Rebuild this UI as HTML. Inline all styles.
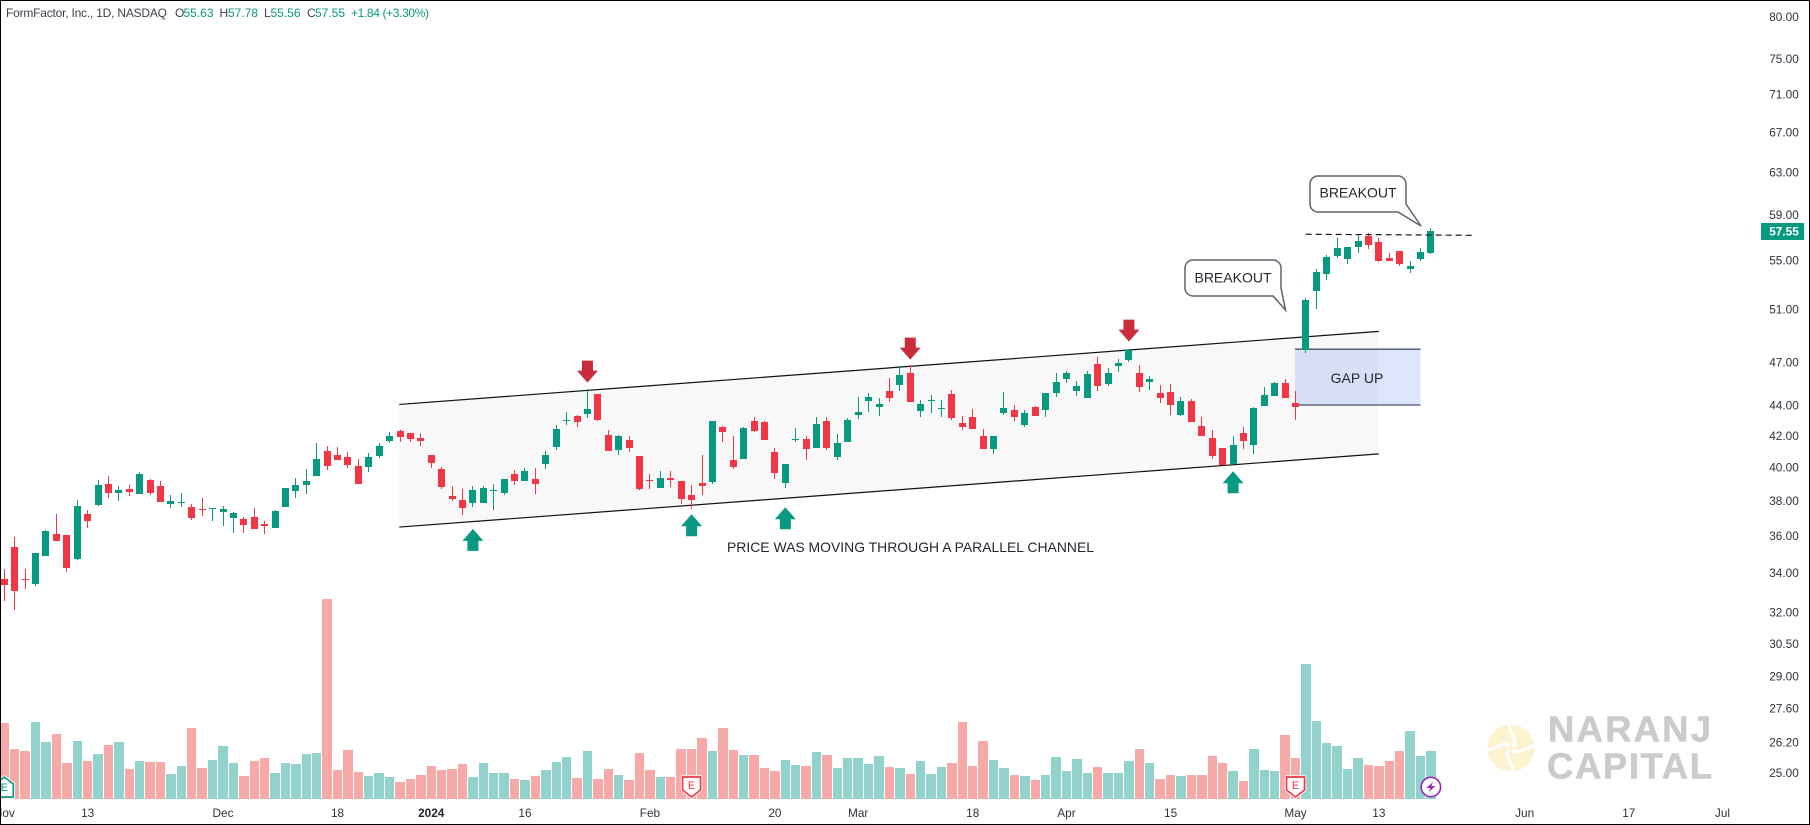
<!DOCTYPE html>
<html lang="en">
<head>
<meta charset="utf-8">
<title>FormFactor, Inc., 1D, NASDAQ</title>
<style>
html,body{margin:0;padding:0;background:#fff;}
body{width:1810px;height:825px;overflow:hidden;}
svg{display:block;font-family:"Liberation Sans",sans-serif;}
text{dominant-baseline:central;}
</style>
</head>
<body>
<svg id="chart" xmlns="http://www.w3.org/2000/svg" width="1810" height="825" viewBox="0 0 1810 825">
  <rect x="0" y="0" width="1810" height="825" fill="#ffffff"/>
  <g id="watermark">
    <g transform="translate(1511 748)">
      <circle r="23.5" fill="#fdf3d0"/>
      <g fill="none" stroke="#ffffff" stroke-width="3.2">
        <path d="M2 -1C8 -9 -3 -16 -2 -25"/>
        <path d="M1 2C9 8 16 -3 25 -2"/>
        <path d="M-2 1C-8 9 3 16 2 25"/>
        <path d="M-1 -2C-9 -8 -16 3 -25 2"/>
      </g>
    </g>
    <text x="1548" y="729" font-size="36.5" font-weight="bold" fill="#cbcbcb" stroke="#cbcbcb" stroke-width="0.6" textLength="163" lengthAdjust="spacing">NARANJ</text>
    <text x="1547" y="766" font-size="36.5" font-weight="bold" fill="#cbcbcb" stroke="#cbcbcb" stroke-width="0.6" textLength="165" lengthAdjust="spacing">CAPITAL</text>
  </g>
  <g id="volume-layer"></g>
  <g id="channel-layer"></g>
  <g id="gap-layer"></g>
  <g id="candle-layer" shape-rendering="crispEdges"></g>
  <g id="arrow-layer"></g>
  <g id="level-layer"></g>

  <text x="1357" y="378" font-size="14" fill="#23262f" text-anchor="middle">GAP UP</text>
  <text x="727" y="547" font-size="14" fill="#23262f" textLength="367" lengthAdjust="spacingAndGlyphs">PRICE WAS MOVING THROUGH A PARALLEL CHANNEL</text>

  <g>
    <path d="M1193 260H1273a8 8 0 0 1 8 8V288L1285.5 310L1273 296H1193a8 8 0 0 1 -8 -8V268a8 8 0 0 1 8 -8Z" fill="#ffffff" stroke="#5f626e" stroke-width="1.5"/>
    <text x="1233" y="277.5" font-size="14" fill="#23262f" text-anchor="middle">BREAKOUT</text>
  </g>
  <g>
    <path d="M1318 176H1398a8 8 0 0 1 8 8V204L1421 226L1398 212H1318a8 8 0 0 1 -8 -8V184a8 8 0 0 1 8 -8Z" fill="#ffffff" stroke="#5f626e" stroke-width="1.5"/>
    <text x="1358" y="192.5" font-size="14" fill="#23262f" text-anchor="middle">BREAKOUT</text>
  </g>

  <g id="marker-layer"></g>
  <g id="y-axis"></g>
  <g id="x-axis"></g>

  <g font-size="12">
    <text x="6" y="13" fill="#3c3f49" textLength="161" lengthAdjust="spacing">FormFactor, Inc., 1D, NASDAQ</text>
    <text x="175" y="13" fill="#3c3f49">O</text>
    <text x="183.5" y="13" fill="#089981">55.63</text>
    <text x="219.5" y="13" fill="#3c3f49">H</text>
    <text x="228" y="13" fill="#089981">57.78</text>
    <text x="264" y="13" fill="#3c3f49">L</text>
    <text x="270.5" y="13" fill="#089981">55.56</text>
    <text x="307" y="13" fill="#3c3f49">C</text>
    <text x="315" y="13" fill="#089981">57.55</text>
    <text x="351" y="13" fill="#089981" textLength="78" lengthAdjust="spacing">+1.84 (+3.30%)</text>
  </g>

  <rect x="0.5" y="0.5" width="1809" height="824" fill="none" stroke="#000000" stroke-width="1"/>
</svg>

<script>
const opens = [33.70,35.40,33.70,33.45,34.91,36.12,36.06,34.75,37.25,37.76,39.00,38.47,38.70,38.41,39.24,38.88,37.82,37.88,37.65,37.53,37.53,37.36,37.02,36.96,37.07,36.68,36.45,37.65,38.59,38.94,39.48,41.03,40.78,40.65,40.09,40.03,40.72,41.67,42.32,42.19,41.86,40.78,39.91,38.29,38.05,37.88,37.88,38.59,38.47,39.61,39.18,39.30,40.22,41.29,42.97,43.30,43.43,44.80,42.06,41.10,41.73,40.72,39.24,38.76,39.36,39.18,38.35,39.06,39.12,42.58,40.46,40.53,42.97,42.90,40.97,39.06,41.73,41.80,41.22,42.97,40.65,41.60,43.37,44.31,43.91,45.00,45.42,46.26,43.64,44.31,43.77,44.80,42.84,43.23,41.99,41.16,43.50,43.70,42.71,43.91,43.70,44.87,45.84,45.00,44.52,46.91,45.49,46.77,47.20,46.26,45.63,44.87,44.94,43.37,44.31,42.64,41.86,41.22,40.22,42.19,41.41,43.98,44.66,45.56,44.18,47.93,52.49,53.88,55.39,55.14,56.17,57.12,56.60,55.22,55.83,54.30,55.14,55.63];
const highs = [34.22,35.95,34.22,35.07,36.34,37.25,36.06,38.05,37.48,39.24,39.48,38.88,38.94,39.73,39.30,39.18,38.35,38.47,37.82,38.17,37.59,37.71,37.36,37.07,37.59,36.84,37.48,38.76,39.36,39.91,41.54,41.35,41.29,40.97,40.53,40.91,41.54,42.25,42.38,42.19,42.19,40.78,40.03,38.88,38.70,38.88,38.88,39.00,39.30,39.85,39.97,39.97,41.03,42.71,43.57,43.37,45.14,44.80,42.38,42.06,41.99,40.72,39.61,39.79,39.79,39.18,38.94,40.78,42.97,42.64,41.99,42.58,43.23,42.97,41.22,40.22,42.51,41.99,43.23,43.23,42.12,43.16,44.59,44.87,44.52,45.91,46.77,46.84,44.38,44.73,44.38,45.07,43.30,43.77,42.45,41.99,44.94,44.04,43.70,43.98,44.87,46.26,46.41,45.70,46.41,47.41,46.63,47.27,47.93,46.84,46.05,45.42,45.49,44.59,44.45,43.23,42.38,41.22,41.99,42.58,43.91,45.28,45.63,45.84,45.00,51.92,54.30,55.48,56.95,56.17,57.21,57.39,56.95,55.65,55.83,54.97,56.08,57.78];
const lows = [32.58,32.13,33.20,33.35,34.91,35.73,34.07,34.70,36.45,37.71,38.17,38.00,38.29,38.41,38.35,37.94,37.59,37.65,36.90,37.13,36.84,36.56,36.17,36.17,36.40,36.12,36.45,37.65,38.17,38.41,39.48,39.85,40.46,39.97,39.00,39.73,40.59,41.54,41.60,41.60,41.35,39.97,38.70,38.00,37.19,37.65,37.88,37.48,38.35,38.94,39.18,38.41,39.91,41.10,42.71,42.58,43.16,42.97,41.03,40.78,40.97,38.65,38.70,38.76,38.82,37.82,37.53,38.35,39.00,41.60,39.91,40.53,42.25,41.73,39.30,38.76,41.60,40.46,41.22,41.10,40.46,41.60,43.10,43.57,43.30,44.25,45.00,44.25,43.23,43.50,43.23,43.03,42.38,42.45,41.16,40.84,43.37,42.97,42.58,43.30,43.23,44.59,45.56,44.66,44.52,45.00,45.35,46.33,47.06,44.94,45.07,44.18,43.37,43.30,42.90,41.99,40.53,40.16,40.22,41.16,40.84,43.98,44.66,44.52,43.03,47.70,51.05,53.38,55.22,54.72,55.65,56.00,54.88,54.97,54.55,53.96,54.97,55.56];
const closes = [33.40,33.10,33.65,35.07,36.28,35.73,34.28,37.71,36.84,38.94,38.47,38.65,38.53,39.61,38.47,37.94,38.00,37.94,37.02,37.48,37.59,37.53,37.30,36.62,36.40,36.56,37.42,38.76,38.94,39.18,40.53,40.09,40.46,40.16,39.00,40.65,41.35,41.99,41.93,41.80,41.67,40.28,38.82,38.11,37.59,38.65,38.76,38.65,39.30,39.18,39.79,39.00,40.78,42.45,43.03,42.90,43.77,43.03,41.03,41.99,41.22,38.70,39.18,39.36,39.24,38.11,38.05,38.88,42.97,42.25,40.03,42.51,42.32,41.73,39.67,40.22,41.80,41.16,42.77,41.22,41.54,43.03,43.57,44.59,44.11,44.52,46.12,44.25,44.11,44.38,43.84,43.16,42.58,42.45,41.16,41.99,43.84,43.23,43.50,43.30,44.87,45.63,46.26,45.35,46.19,45.35,46.26,46.98,47.93,45.28,45.84,44.52,44.04,44.31,42.90,41.99,40.72,40.16,41.41,41.67,43.84,44.73,45.56,44.52,43.91,51.76,54.05,55.31,56.08,56.17,56.68,56.34,54.97,54.97,54.72,54.55,55.74,57.55];
const volumes = [760,500,480,770,570,650,360,580,380,450,540,570,300,380,370,370,250,330,710,310,390,530,360,230,380,410,260,360,350,450,460,2000,290,490,270,230,260,220,170,200,240,330,290,300,350,220,360,260,260,200,190,230,290,370,420,210,480,200,300,240,190,460,290,220,220,500,500,610,480,710,490,440,440,310,280,390,340,330,470,440,310,410,410,350,430,320,310,250,380,250,320,360,770,330,580,390,310,240,230,190,240,420,280,400,260,320,260,260,380,500,360,200,240,230,240,240,430,360,280,180,500,290,280,640,410,1350,780,560,530,300,410,340,330,380,480,680,430,480];
const yTickValues = [80,75,71,67,63,59,55,51,47,44,42,40,38,36,34,32,30.5,29,27.6,26.2,25];
const xTickLabels = ["Nov","13","Dec","18","2024","16","Feb","20","Mar","18","Apr","15","May","13","Jun","17","Jul"];
const xTickBars = [0,8,21,32,41,50,62,74,82,93,102,112,124,132,146,156,165];
const lastPrice = 57.55;
const channelBars = [37.93,132];
const channelUpper = [44.08,49.32];
const channelLower = [36.50,40.85];
const gapBars = [123.95,136];
const gapPrices = [47.99,44.04];
const levelBars = [124.97,141];
const levelPrices = [57.27,57.18];
const downArrowBars = [56,87,108];
const downArrowTips = [45.58,47.22,48.55];
const upArrowBars = [45,66,75,118];
const upArrowTips = [36.40,37.23,37.63,39.77];
const earningsPastBars = [0];
const earningsBars = [66,124];
const dividendBars = [137];

const NS = "http://www.w3.org/2000/svg";
const UP = "#089981", DOWN = "#f23645", UP_VOL = "#92d2cc", DOWN_VOL = "#f7a9a7";
const xScale = i => 4.33 + 10.413 * i;
const yScale = p => 17 + 650 * Math.log(80 / p);
const volHeight = v => v * 0.1;
const VOL_BASE = 799;

function make(parent, tag, props) {
  const el = document.createElementNS(NS, tag);
  for (const k in props) el.setAttribute(k, props[k]);
  parent.appendChild(el);
  return el;
}
const byId = id => document.getElementById(id);

// volume bars
closes.forEach((c, i) => {
  const cx = xScale(i);
  const left = Math.round(cx - 4.7), right = Math.round(cx + 4.7);
  const h = Math.round(volHeight(volumes[i]));
  const bar = make(byId("volume-layer"), "rect", {x:left, y:VOL_BASE - h, width:right - left, height:h, fill:c >= opens[i] ? UP_VOL : DOWN_VOL, "shape-rendering":"crispEdges"});
  
  
});

// channel
{
  const layer = byId("channel-layer");
  const x0 = xScale(channelBars[0]), x1 = xScale(channelBars[1]);
  const fill = make(layer, "polygon", {points:[x0,yScale(channelUpper[0]),x1,yScale(channelUpper[1]),x1,yScale(channelLower[1]),x0,yScale(channelLower[0])].join(" "), fill:"#f8f8f8"});
  
  
  const upper = make(layer, "line", {x1:x0, y1:yScale(channelUpper[0]), x2:x1, y2:yScale(channelUpper[1]), stroke:"#111111", "stroke-width":1.2});
  
  
  const lower = make(layer, "line", {x1:x0, y1:yScale(channelLower[0]), x2:x1, y2:yScale(channelLower[1]), stroke:"#111111", "stroke-width":1.2});
  
  
}

// gap zone
{
  const layer = byId("gap-layer");
  const x0 = xScale(gapBars[0]), x1 = xScale(gapBars[1]);
  const yt = yScale(gapPrices[0]), yb = yScale(gapPrices[1]);
  const box = make(layer, "rect", {x:x0, y:yt, width:x1 - x0, height:yb - yt, fill:"#2d5cf0", "fill-opacity":0.16});
  
  
  const top = make(layer, "line", {x1:x0, y1:yt, x2:x1, y2:yt, stroke:"#4a5068", "stroke-width":1.3});
  
  
  const bottom = make(layer, "line", {x1:x0, y1:yb, x2:x1, y2:yb, stroke:"#4a5068", "stroke-width":1.3});
  
  
}

// candles
closes.forEach((c, i) => {
  const o = opens[i], color = c >= o ? UP : DOWN;
  const cx = Math.floor(xScale(i));
  const group = make(byId("candle-layer"), "g", {fill:color});
  
  
  const yh = Math.round(yScale(highs[i])), yl = Math.round(yScale(lows[i]));
  const wick = make(group, "rect", {x:cx, y:yh, width:1, height:Math.max(1, yl - yh)});
  
  
  const yt = Math.round(yScale(Math.max(o, c))), yb = Math.round(yScale(Math.min(o, c)));
  const body = make(group, "rect", {x:cx - 3, y:yt, width:7, height:Math.max(1, yb - yt)});
  
  
});

// arrows
downArrowBars.forEach((b, k) => {
  const x = xScale(b) , t = yScale(downArrowTips[k]);
  const a = make(byId("arrow-layer"), "polygon", {points:[x-5.5,t-22, x+5.5,t-22, x+5.5,t-12, x+10.5,t-12, x,t, x-10.5,t-12, x-5.5,t-12].join(" "), fill:"#c92d3c"});
  
  
});
upArrowBars.forEach((b, k) => {
  const x = xScale(b), t = yScale(upArrowTips[k]);
  const a = make(byId("arrow-layer"), "polygon", {points:[x,t, x+10.5,t+12, x+5.5,t+12, x+5.5,t+22, x-5.5,t+22, x-5.5,t+12, x-10.5,t+12].join(" "), fill:"#089981"});
  
  
});

// breakout level
{
  const lv = make(byId("level-layer"), "line", {x1:xScale(levelBars[0]), y1:yScale(levelPrices[0]), x2:xScale(levelBars[1]), y2:yScale(levelPrices[1]), stroke:"#000000", "stroke-width":1.1, "stroke-dasharray":"6 4"});
  
  
}

// event markers
function earnings(bar, color, up, name) {
  const g = make(byId("marker-layer"), "g", {transform:"translate(" + xScale(bar) + " 787)"});
  
  
  const pts = up ? "-9,10 9,10 9,-3 0,-10 -9,-3" : "-9,-10 9,-10 9,3 0,10 -9,3";
  const halo = make(g, "polygon", {points:pts, fill:"#ffffff", stroke:"#ffffff", "stroke-width":3.5, "stroke-linejoin":"round"});
  
  
  const shape = make(g, "polygon", {points:pts, fill:"#ffffff", stroke:color, "stroke-width":1.7, "stroke-linejoin":"round"});
  
  
  const t = make(g, "text", {x:0, y:up ? 1 : -1, "font-size":11, fill:color, "text-anchor":"middle"});
  
  
  t.textContent = "E";
}
earningsPastBars.forEach(b => earnings(b, UP, true, 'earnings-marker-past'));
earningsBars.forEach(b => earnings(b, DOWN, false, 'earnings-marker'));
dividendBars.forEach(b => {
  const g = make(byId("marker-layer"), "g", {transform:"translate(" + xScale(b) + " 787)"});
  
  
  const ring = make(g, "circle", {r:9.7, fill:"#ffffff", stroke:"#9c27b0", "stroke-width":1.6});
  
  
  const bolt = make(g, "polygon", {points:"2,-5 -4.5,1 -0.5,1 -2,5 4.5,-1 0.5,-1", fill:"#9c27b0"});
  
  
});

// y axis
yTickValues.forEach(v => {
  const t = make(byId("y-axis"), "text", {x:1784, y:yScale(v), "font-size":11.8, fill:"#2f323c", "text-anchor":"middle"});
  
  
  t.textContent = v.toFixed(2);
});
{
  const yp = yScale(lastPrice);
  const tag = make(byId("y-axis"), "rect", {x:1761, y:Math.round(yp) - 8, width:43, height:17, fill:UP});
  
  
  const t = make(byId("y-axis"), "text", {x:1784, y:yp + 0.5, "font-size":11.8, "font-weight":"bold", fill:"#ffffff", "text-anchor":"middle"});
  
  
  t.textContent = lastPrice.toFixed(2);
}

// x axis
xTickLabels.forEach((label, k) => {
  const t = make(byId("x-axis"), "text", {x:xScale(xTickBars[k]), y:813, "font-size":11.8, fill:label === "2024" ? "#22252e" : "#2f323c", "text-anchor":"middle", "font-weight":label === "2024" ? "bold" : "normal"});
  
  
  t.textContent = label;
});
</script>
</body>
</html>
